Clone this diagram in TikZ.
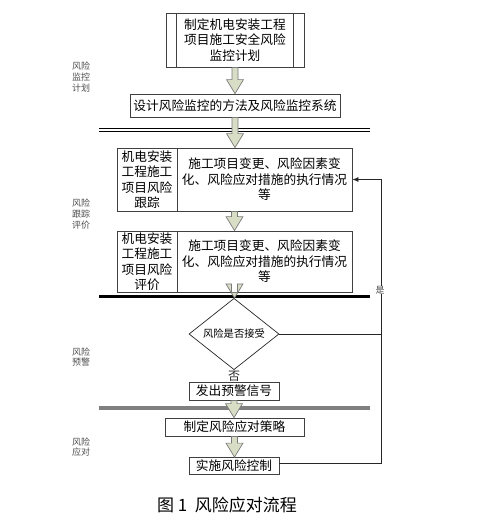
\documentclass[tikz,border=0pt]{standalone}
\usepackage{fontspec}
\setmainfont{Noto Sans CJK SC}
\usetikzlibrary{shapes.geometric,arrows.meta,calc}
\definecolor{arrowfill}{HTML}{D8DDC6}
\definecolor{arrowline}{HTML}{7A7A7A}
\definecolor{boxline}{HTML}{404040}
\newcommand\blkarrow[2]{%
  \path let \p1=(#1.south), \p2=(#2.north) in
    [fill=arrowfill, draw=arrowline, line width=0.7pt]
    (\x1-3pt,\y1) -- (\x1+3pt,\y1) -- (\x1+3pt,\y2+14pt) -- (\x1+8.5pt,\y2+14pt)
    -- (\x1,\y2) -- (\x1-8.5pt,\y2+14pt) -- (\x1-3pt,\y2+14pt) -- cycle;}
\begin{document}
\begin{tikzpicture}[x=1pt,y=-1pt,
  box/.style={draw=boxline, line width=0.8pt, fill=white, inner sep=0pt, align=center,
    font=\fontsize{12.7}{15.5}\selectfont},
  side/.style={align=center, text=black!70, inner sep=0pt,
    font=\fontsize{9}{10.8}\selectfont},
  cell/.style={inner sep=0pt, align=center, font=\fontsize{12.7}{15.5}\selectfont},
  loopline/.style={draw=black!85, line width=0.8pt}
]
\useasboundingbox (0,0) rectangle (487,525);

% top predefined-process box
\node[box, minimum width=138pt, minimum height=54pt] (plan) at (235,40)
  {制定机电安装工程\\项目施工安全风险\\监控计划};
\draw[boxline, line width=0.8pt] (176,13) -- (176,67) (293,13) -- (293,67);

\node[box, minimum width=210pt, minimum height=23pt] (design) at (235,105.5)
  {设计风险监控的方法及风险监控系统};

% double line
\draw[black, line width=0.8pt] (99,128) -- (370,128) (99,131) -- (370,131);

% tracking box
\node[box, minimum width=235pt, minimum height=63pt] (track) at (234.5,179.5) {};
\draw[boxline, line width=0.8pt] (177,148) -- (177,211);
\node[cell, text width=52pt] (trackL) at (147,179.5) {机电安装\\工程施工\\项目风险\\跟踪};
\node[cell, text width=170pt] (trackR) at (264.5,179.5) {施工项目变更、风险因素变\\化、风险应对措施的执行情况\\等};

% evaluation box
\node[box, minimum width=235pt, minimum height=61pt] (eval) at (234.5,261.5) {};
\draw[boxline, line width=0.8pt] (177,231) -- (177,292);
\node[cell, text width=52pt] (evalL) at (147,261.5) {机电安装\\工程施工\\项目风险\\评价};
\node[cell, text width=170pt] (evalR) at (264.5,261.5) {施工项目变更、风险因素变\\化、风险应对措施的执行情况\\等};

% thick black line
\draw[black, line width=3pt] (99,296) -- (370,296);

% decision diamond
\node[diamond, draw=black!85, line width=0.7pt, fill=white, minimum width=90pt, minimum height=54pt,
  inner sep=0pt, font=\fontsize{10.3}{12}\selectfont] (dec) at (234,334) {风险是否接受};

\node[box, minimum width=90pt, minimum height=18pt] (warn) at (234,391) {发出预警信号};
\draw[black!85, line width=0.7pt] (dec.south) -- node[fill=white, inner sep=0.5pt,
  font=\fontsize{12}{12}\selectfont] (no) {否} (warn.north);

% gray line
\draw[black!50, line width=4pt] (99,408) -- (370,408);

\node[box, minimum width=139pt, minimum height=18pt] (strat) at (234.5,427) {制定风险应对策略};
\node[box, minimum width=90pt, minimum height=17pt] (impl) at (234,466) {实施风险控制};

% block arrows
\blkarrow{plan}{design}
\blkarrow{design}{track}
\blkarrow{track}{eval}
\blkarrow{eval}{dec}
\blkarrow{warn}{strat}
\blkarrow{strat}{impl}

% feedback loop
\coordinate (loopc) at (381.5,463);
\draw[loopline, -{Latex[length=6pt,width=5pt]}] ([yshift=3pt]impl.east) -- (loopc) |- (track.east);
\draw[loopline] (dec.east) -- (dec.east -| loopc);
\node[fill=white, inner sep=0.3pt, text=black!70, font=\fontsize{9}{9}\selectfont] (yes) at (380,290) {是};

% side labels
\node[side] (s1) at (81,77) {风险\\监控\\计划};
\node[side] (s2) at (81,214) {风险\\跟踪\\评价};
\node[side] (s3) at (81,357) {风险\\预警};
\node[side] (s4) at (81,447) {风险\\应对};

% caption
\node[inner sep=0pt, font=\fontsize{17}{17}\selectfont] (cap) at (227,505) {图 1\ \ 风险应对流程};
\end{tikzpicture}
\end{document}
